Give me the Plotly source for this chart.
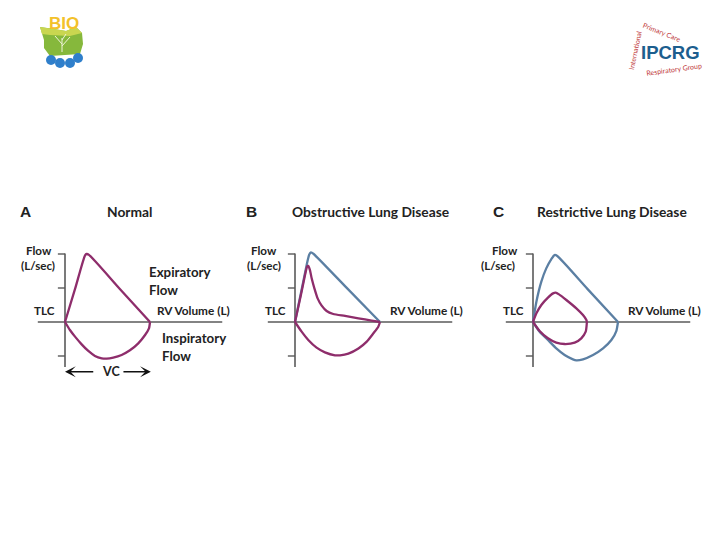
import plotly.graph_objects as go

# ---------------- data (volume in L, flow in L/s) ----------------
# Panel A - Normal
normal_exp_v = [0, 0.6, 1.18, 1.27, 1.41, 3.2, 5.0]
normal_exp_f = [0, 3.95, 7.85, 8.0, 7.9, 3.95, 0]
normal_insp_v = [0, 0.29, 0.59, 0.98, 1.37, 1.76, 2.16, 2.45, 2.84, 3.33, 3.82, 4.31, 4.71, 4.94, 5.0]
normal_insp_f = [0, -0.94, -1.72, -2.63, -3.41, -3.99, -4.27, -4.31, -4.19, -3.88, -3.33, -2.51, -1.53, -0.75, 0]

# Panel B - Obstructive
obst_ref_exp_v = [0, 0.4, 0.74, 0.84, 0.94, 1.1, 3.0, 5.0]
obst_ref_exp_f = [0, 3.9, 7.2, 7.95, 8.2, 8.0, 4.1, 0]
obst_exp_v = [0, 0.35, 0.62, 0.72, 0.78, 0.88, 0.98, 1.14, 1.33, 1.57, 1.86, 2.25, 2.94, 3.73, 4.51, 5.0]
obst_exp_f = [0, 3.2, 5.8, 6.55, 6.6, 6.1, 5.14, 3.96, 2.78, 1.92, 1.29, 0.94, 0.71, 0.43, 0.16, 0]
obst_insp_v = [0, 0.39, 0.78, 1.27, 1.76, 2.35, 2.65, 3.14, 3.73, 4.22, 4.61, 4.90, 5.0]
obst_insp_f = [0, -1.14, -2.12, -3.02, -3.57, -3.92, -3.92, -3.72, -3.12, -2.31, -1.33, -0.55, 0]

# Panel C - Restrictive
restr_ref_exp_v = [0, 0.2, 0.49, 0.78, 1.08, 1.27, 1.43, 3.2, 5.0]
restr_ref_exp_f = [0, 2.39, 4.75, 6.31, 7.41, 7.88, 7.76, 3.9, 0]
restr_ref_insp_v = [0, 0.39, 0.88, 1.37, 1.86, 2.35, 2.55, 2.94, 3.53, 4.12, 4.61, 4.90, 5.0]
restr_ref_insp_f = [0, -1.14, -2.12, -3.10, -3.88, -4.39, -4.51, -4.39, -3.88, -3.10, -2.12, -1.06, 0]
restr_exp_v = [0, 0.2, 0.49, 0.88, 1.18, 1.33, 1.53, 1.96, 2.55, 2.94, 3.14, 3.17]
restr_exp_f = [0, 1.02, 2.0, 2.86, 3.37, 3.45, 3.25, 2.59, 1.61, 0.82, 0.24, 0]
restr_insp_v = [0, 0.39, 0.88, 1.37, 1.86, 2.45, 2.84, 3.10, 3.17]
restr_insp_f = [0, -1.06, -1.92, -2.43, -2.59, -2.43, -1.92, -1.14, 0]

panel_letters = ["A", "B", "C"]
panel_titles = ["Normal", "Obstructive Lung Disease", "Restrictive Lung Disease"]
y_ticks = [8, 4, -4]
x_axis_span = [-1.6, 9.25]
y_axis_span = [-5.3, 8.05]

# ---------------- layout geometry ----------------
W, H = 720, 540
PX_PER_L = 17.0
PX_PER_F = 8.5
ORIGIN_X = [65, 295, 533]
ORIGIN_Y = 322
DOM_LEFT, DOM_RIGHT = 40, 170    # px around origin
DOM_TOP, DOM_BOT = 230, 390      # px

PURPLE = "#8E2D6B"
BLUE = "#5B7FA3"
AXIS = "#5a5a5a"
FONT = "Lato"


def fx(px):
    return px / W


def fy(py):
    return 1 - py / H


fig = go.Figure()

curves = [
    [(normal_exp_v, normal_exp_f, PURPLE), (normal_insp_v, normal_insp_f, PURPLE)],
    [(obst_ref_exp_v, obst_ref_exp_f, BLUE), (obst_exp_v, obst_exp_f, PURPLE),
     (obst_insp_v, obst_insp_f, PURPLE)],
    [(restr_ref_exp_v, restr_ref_exp_f, BLUE), (restr_ref_insp_v, restr_ref_insp_f, BLUE),
     (restr_exp_v, restr_exp_f, PURPLE), (restr_insp_v, restr_insp_f, PURPLE)],
]

shapes = []
annotations = []

for i in range(3):
    xa = "x" if i == 0 else f"x{i+1}"
    ya = "y" if i == 0 else f"y{i+1}"
    ox = ORIGIN_X[i]
    x0 = fx(ox - DOM_LEFT)
    x1 = fx(ox + DOM_RIGHT)
    xr = [-DOM_LEFT / PX_PER_L, DOM_RIGHT / PX_PER_L]
    yr = [(ORIGIN_Y - DOM_BOT) / PX_PER_F, (ORIGIN_Y - DOM_TOP) / PX_PER_F]
    ax_kw = dict(visible=False, fixedrange=True, showgrid=False, zeroline=False)
    fig.layout[("xaxis" if i == 0 else f"xaxis{i+1}")] = dict(
        domain=[x0, x1], range=xr, anchor=ya, **ax_kw)
    fig.layout[("yaxis" if i == 0 else f"yaxis{i+1}")] = dict(
        domain=[fy(DOM_BOT), fy(DOM_TOP)], range=yr, anchor=xa, **ax_kw)

    # axes
    shapes.append(dict(type="line", xref=xa, yref=ya, x0=x_axis_span[0], x1=x_axis_span[1],
                       y0=0, y1=0, line=dict(color=AXIS, width=1.6), layer="below"))
    shapes.append(dict(type="line", xref=xa, yref=ya, x0=0, x1=0,
                       y0=y_axis_span[0], y1=y_axis_span[1], line=dict(color=AXIS, width=1.6),
                       layer="below"))
    for t in y_ticks:
        shapes.append(dict(type="line", xref=xa, yref=ya, x0=-0.42, x1=0, y0=t, y1=t,
                           line=dict(color=AXIS, width=1.4), layer="below"))

    for v, f, c in curves[i]:
        fig.add_trace(go.Scatter(x=v, y=f, mode="lines", xaxis=xa, yaxis=ya,
                                 line=dict(color=c, width=2.3, shape="spline", smoothing=0.6),
                                 hoverinfo="skip", showlegend=False))

# ---------------- texts ----------------
def txt(text, px, py, size, xanchor="center", color="#222", family=FONT, angle=0, bold=True):
    annotations.append(dict(
        text=(f"<b>{text}</b>" if bold else text), x=fx(px), y=fy(py), xref="paper", yref="paper",
        xanchor=xanchor, yanchor="middle", showarrow=False, textangle=angle,
        font=dict(size=size, color=color, family=family)))


letter_x = [26, 251, 498]
title_x = [129, 371, 612]
flow_x = [39, 264, 505]
lsec_x = [38, 264, 498]
tlc_x = [44, 275, 513]
rv_x = [193, 426, 664]
for i in range(3):
    txt(panel_letters[i], letter_x[i], 211, 15.5, family="Liberation Sans")
    txt(panel_titles[i], title_x[i], 211, 13.8)
    txt("Flow", flow_x[i], 250, 11.6)
    txt("(L/sec)", lsec_x[i], 265, 11.6)
    txt("TLC", tlc_x[i], 310, 11.6)
    txt("RV Volume (L)", rv_x[i], 310, 11.8)

txt("Expiratory", 147, 272, 13.3, xanchor="left")
txt("Flow", 147, 290, 13.3, xanchor="left")
txt("Inspiratory", 160, 338, 13.3, xanchor="left")
txt("Flow", 160, 356, 13.3, xanchor="left")
txt("VC", 111, 371, 12.5)

# VC arrows (in panel A volume units)
for tip, tail in [(0.0, 1.75), (5.05, 3.35)]:
    annotations.append(dict(x=tip, y=-5.85, ax=tail, ay=-5.85, xref="x", yref="y",
                            axref="x", ayref="y", showarrow=True, arrowhead=3, arrowsize=1.2,
                            arrowwidth=1.5, arrowcolor="#111", text=""))

# ---------------- logos (decorative) ----------------
def path(points):
    s = "M " + " L ".join(f"{fx(x):.4f},{fy(y):.4f}" for x, y in points) + " Z"
    return s

shapes.append(dict(type="path", xref="paper", yref="paper",
                   path=path([(40, 27), (44, 40), (44, 48), (50, 56), (80, 54), (83, 44),
                              (82, 33), (76, 27), (66, 31), (54, 29)]),
                   fillcolor="#86B83C", line=dict(width=0)))
shapes.append(dict(type="path", xref="paper", yref="paper",
                   path=path([(40, 27), (54, 29), (66, 31), (76, 27), (82, 33), (70, 36), (50, 35), (42, 34)]),
                   fillcolor="#C9D650", line=dict(width=0)))
for cx, cy in [(51, 60), (60, 63), (70, 63), (78, 58)]:
    shapes.append(dict(type="circle", xref="paper", yref="paper",
                       x0=fx(cx - 5), x1=fx(cx + 5), y0=fy(cy + 5), y1=fy(cy - 5),
                       fillcolor="#2F7FCB", line=dict(width=0)))
for (ax0, ay0, ax1, ay1) in [(62, 52, 62, 38), (62, 44, 55, 36), (62, 46, 70, 37), (62, 40, 66, 34)]:
    shapes.append(dict(type="line", xref="paper", yref="paper",
                       x0=fx(ax0), y0=fy(ay0), x1=fx(ax1), y1=fy(ay1),
                       line=dict(color="#EEF3D8", width=1)))
txt("BIO", 64, 24, 17, color="#F3C12A", family="Liberation Sans")

txt("IPCRG", 670, 52, 18.5, color="#1C5E8E", family="Liberation Sans")
txt("International", 635, 50, 7, color="#C0393B", angle=-78, bold=False)
txt("Primary Care", 662, 32, 7, color="#C0393B", angle=22, bold=False)
txt("Respiratory Group", 674, 69, 7, color="#C0393B", angle=-8, bold=False)

fig.update_layout(width=W, height=H, margin=dict(l=0, r=0, t=0, b=0),
                  paper_bgcolor="white", plot_bgcolor="rgba(0,0,0,0)",
                  shapes=shapes, annotations=annotations, showlegend=False)

fig.write_html("out.html", config={"displayModeBar": False},
               post_script="document.body.style.margin='0';")
